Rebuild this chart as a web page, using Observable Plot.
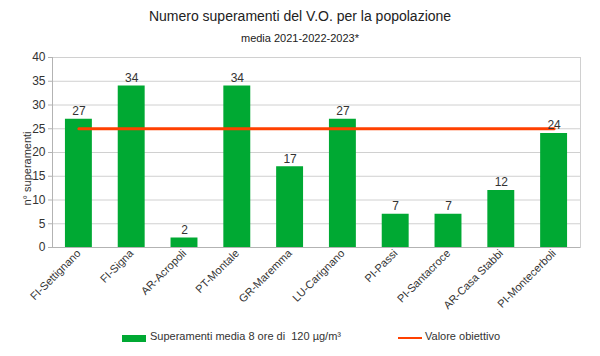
<!DOCTYPE html>
<html>
<head>
<meta charset="utf-8">
<script src="https://cdn.jsdelivr.net/npm/d3@7"></script>
<script src="https://cdn.jsdelivr.net/npm/@observablehq/plot@0.6"></script>
<style>
  body { margin: 0; background: #fff; font-family: "Liberation Sans", Arial, sans-serif; }
  #wrap { width: 600px; height: 356px; position: relative; overflow: hidden; }
  #title { height: 50px; position: relative; }
  #t1 { position: absolute; top: 8px; left: 0; width: 600px; text-align: center; font-size: 14px; color: #222; }
  #t2 { position: absolute; top: 32px; left: 0; width: 600px; text-align: center; font-size: 11px; color: #222; }
  #legend { height: 36px; position: relative; font-size: 11px; color: #333; }
  .sw { position: absolute; }
  .lt { position: absolute; top: 10px; }
</style>
</head>
<body>
<div id="wrap">
  <div id="title"><div id="t1">Numero superamenti del V.O. per la popolazione</div><div id="t2">media 2021-2022-2023*</div></div>
  <div id="chart"></div>
  <div id="legend">
    <div class="sw" style="left:122px;top:15px;width:24px;height:7px;background:#00a933"></div>
    <div class="lt" style="left:150px">Superamenti media 8 ore di&nbsp; 120 µg/m³</div>
    <div class="sw" style="left:398px;top:17px;width:24px;height:2px;background:#ff4000"></div>
    <div class="lt" style="left:425px">Valore obiettivo</div>
  </div>
</div>
<script>
const stations = ["FI-Settignano","FI-Signa","AR-Acropoli","PT-Montale","GR-Maremma","LU-Carignano","PI-Passi","PI-Santacroce","AR-Casa Stabbi","PI-Montecerboli"];
const exceedances = [27, 34, 2, 34, 17, 27, 7, 7, 12, 24];
const target = 25;
const yTicks = [0,5,10,15,20,25,30,35,40];
const yLabel = "n° superamenti";

const data = stations.map((s, i) => ({station: s, value: exceedances[i]}));
const lineData = [{station: stations[0], value: target}, {station: stations[stations.length - 1], value: target}];

const chart = Plot.plot({
  width: 600,
  height: 270,
  marginTop: 7,
  marginBottom: 73,
  marginLeft: 52,
  marginRight: 20,
  style: {fontFamily: "Liberation Sans, Arial, sans-serif", fontSize: "11px", color: "#333"},
  x: {domain: stations, paddingInner: 0.49, paddingOuter: 0.245, align: 0.5, round: false, label: null},
  y: {domain: [0, 40], label: null},
  marks: [
    Plot.gridY(yTicks, {stroke: "#d0d0d0", strokeOpacity: 1}),
    Plot.frame({anchor: "right", stroke: "#d0d0d0"}),
    Plot.frame({anchor: "left", stroke: "#b3b3b3"}),
    Plot.axisY(yTicks, {tickSize: 4, tickPadding: 3, stroke: "#b3b3b3", fill: "#333", fontSize: 12}),
    Plot.axisX({tickSize: 0, tickPadding: 4, tickRotate: -45, fill: "#333", fontSize: 11}),
    Plot.barY(data, {x: "station", y: "value", fill: "#00a933"}),
    Plot.line(lineData, {x: "station", y: "value", stroke: "#ff4000", strokeWidth: 3}),
    Plot.text(data, {x: "station", y: "value", text: d => String(d.value), dy: -8, fill: "#333", fontSize: 12}),
    Plot.ruleY([0], {stroke: "#b3b3b3"}),
    Plot.text([yLabel], {frameAnchor: "left", textAnchor: "middle", dx: -25, dy: 16, rotate: -90, fill: "#333", fontSize: 11})
  ]
});
document.getElementById("chart").appendChild(chart);
</script>
</body>
</html>
